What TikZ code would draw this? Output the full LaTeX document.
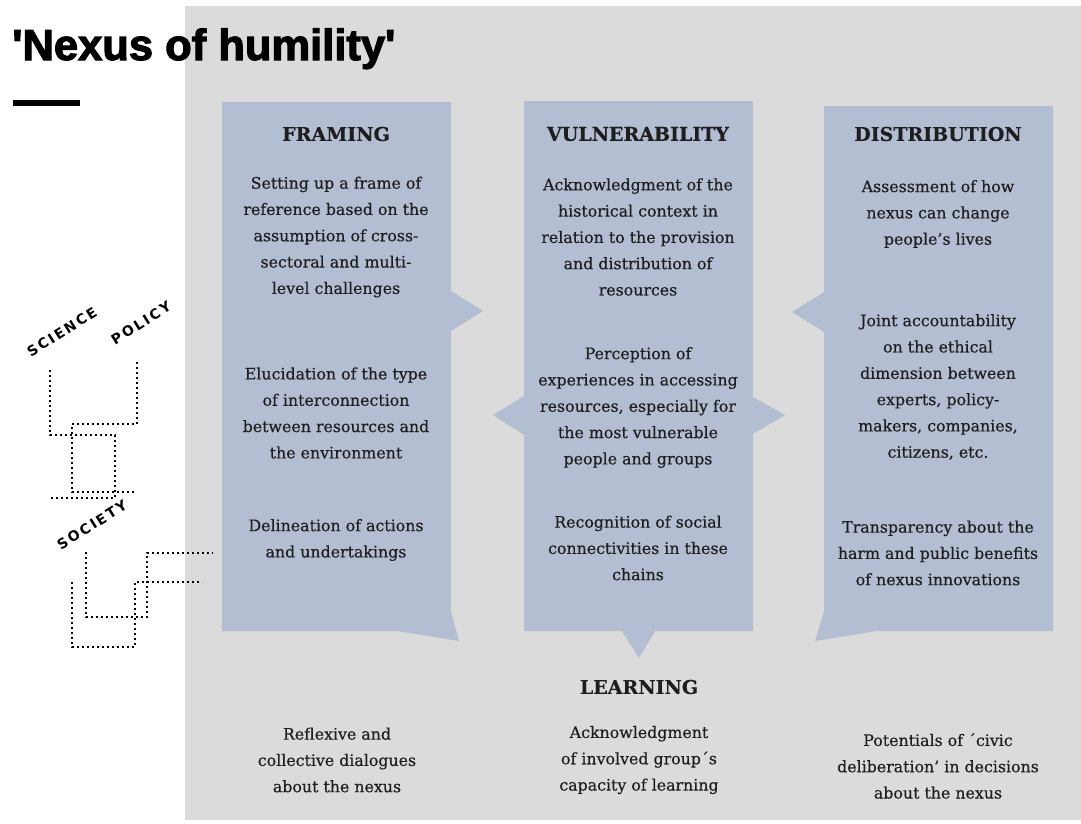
\documentclass[tikz,border=0pt]{standalone}
\usepackage{fontspec}
\setmainfont{DejaVu Serif}[FakeBold=0.4]
\newfontfamily\titlefont[FakeBold=2.6]{Liberation Sans}
\newfontfamily\tagfont[LetterSpace=15]{DejaVu Sans}
\definecolor{backgray}{RGB}{219,219,219}
\definecolor{panelblue}{RGB}{180,190,210}
\definecolor{ink}{RGB}{30,30,30}

\begin{document}
\begin{tikzpicture}[x=1pt,y=-1pt,
  panel/.style={fill=panelblue},
  body/.style={align=center,font=\fontsize{15.8}{26.3}\selectfont,text=ink,inner sep=0pt},
  head/.style={font=\fontsize{19}{22}\selectfont\bfseries,text=ink,inner sep=0pt},
  tag/.style={font=\tagfont\bfseries\fontsize{14}{16}\selectfont,rotate=32,inner sep=0pt},
  dots/.style={draw=black,line width=1.8pt,dash pattern=on 1.8pt off 3.2pt}]

\useasboundingbox (0,0) rectangle (1081,823);
\fill[white] (0,0) rectangle (1081,823);
\fill[backgray] (185,6) rectangle (1081,820);

% title and rule
\node[anchor=base west,inner sep=0pt,font=\titlefont\bfseries\fontsize{43.5}{48}\selectfont] (title) at (12,60) {'Nexus of humility'};
\fill[black] (13,100) rectangle (80,106);

% the three panels with their pointers
\fill[panel] (222,102) -- (451,102) -- (451,291) -- (483,311) -- (451,331) -- (451,612)
  -- (459,641) -- (397,631) -- (222,631) -- cycle;
\fill[panel] (524,101) -- (753,101) -- (753,397) -- (785,415) -- (753,434) -- (753,631)
  -- (655,631) -- (639,658) -- (622,631) -- (524,631) -- (524,435) -- (493,415) -- (524,396) -- cycle;
\fill[panel] (824,106) -- (1053,106) -- (1053,631) -- (877,631) -- (815,641) -- (824,612)
  -- (824,332) -- (792,312) -- (824,292) -- cycle;

% FRAMING
\node[head] (fram) at (336,134) {FRAMING};
\node[body] (fram1) at (336,237) {Setting up a frame of\\reference based on the\\assumption of cross-\\sectoral and multi-\\level challenges};
\node[body] (fram2) at (336,413) {Elucidation of the type\\of interconnection\\between resources and\\the environment};
\node[body] (fram3) at (336,540) {Delineation of actions\\and undertakings};

% VULNERABILITY
\node[head] (vuln) at (638,134) {VULNERABILITY};
\node[body] (vuln1) at (638,237) {Acknowledgment of the\\historical context in\\relation to the provision\\and distribution of\\resources};
\node[body] (vuln2) at (638,407.5) {Perception of\\experiences in accessing\\resources, especially for\\the most vulnerable\\people and groups};
\node[body] (vuln3) at (638,548) {Recognition of social\\connectivities in these\\chains};

% DISTRIBUTION
\node[head] (dist) at (938,134) {DISTRIBUTION};
\node[body] (dist1) at (938,214) {Assessment of how\\nexus can change\\people's lives};
\node[body] (dist2) at (938,387) {Joint accountability\\on the ethical\\dimension between\\experts, policy-\\makers, companies,\\citizens, etc.};
\node[body] (dist3) at (938,553) {Transparency about the\\harm and public benefits\\of nexus innovations};

% LEARNING
\node[head] (learn) at (639,687) {LEARNING};
\node[body] (learn1) at (337,760) {Reflexive and\\collective dialogues\\about the nexus};
\node[body] (learn2) at (639,760) {Acknowledgment\\of involved group´s\\capacity of learning};
\node[body] (learn3) at (938,766) {Potentials of ´civic\\deliberation' in decisions\\about the nexus};

% science / policy / society sketch
\node[tag] (science) at (62,332) {SCIENCE};
\node[tag] (policy) at (141,323) {POLICY};
\node[tag] (society) at (92,525) {SOCIETY};

\draw[dots] (50,370) -- (50,435) -- (115,435) -- (115,498) -- (50,498);
\draw[dots] (137,362) -- (137,424) -- (72,424) -- (72,492) -- (135,492);
\draw[dots] (86,552) -- (86,617) -- (147,617) -- (147,553) -- (213,553);
\draw[dots] (72,582) -- (72,647) -- (135,647) -- (135,582) -- (202,582);
\end{tikzpicture}
\end{document}
